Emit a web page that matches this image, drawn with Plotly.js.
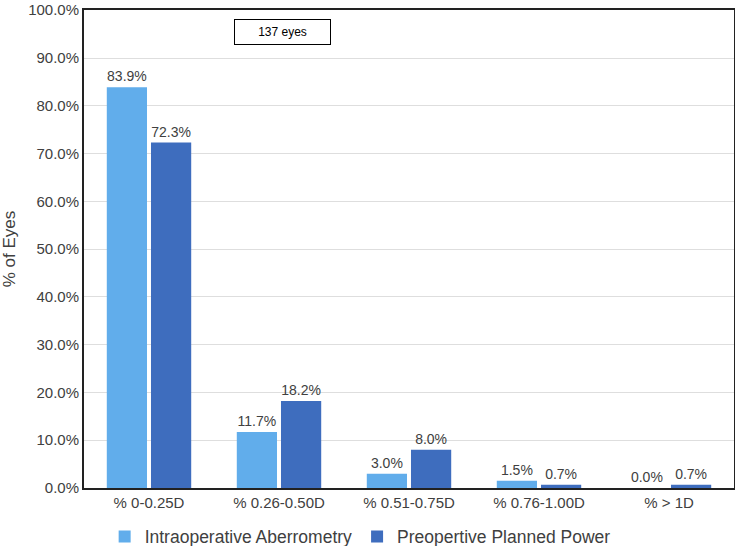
<!DOCTYPE html>
<html><head><meta charset="utf-8">
<script src="https://cdn.plot.ly/plotly-3.0.1.min.js"></script>
<style>html,body{margin:0;padding:0;background:#fff}</style>
</head><body>
<div id="chart" style="width:735px;height:546px"></div>
<script>
const categories = ["% 0-0.25D", "% 0.26-0.50D", "% 0.51-0.75D", "% 0.76-1.00D", "% > 1D"];
const intraop = [83.9, 11.7, 3.0, 1.5, 0.0];
const preop = [72.3, 18.2, 8.0, 0.7, 0.7];
const seriesNames = ["Intraoperative Aberrometry", "Preopertive Planned Power"];
const yTicks = [0,10,20,30,40,50,60,70,80,90,100];

const font = "Liberation Sans, Arial, Helvetica, sans-serif";
const mk = (y, name, color) => ({
  type: 'bar', x: categories, y: y, name: name,
  marker: {color: color},
  text: y.map(v => v.toFixed(1) + '%'), textposition: 'outside',
  textfont: {size: 14, color: '#404040', family: font},
  cliponaxis: false, hoverinfo: 'skip'
});
const data = [mk(intraop, seriesNames[0], '#61adeb'), mk(preop, seriesNames[1], '#3e6dbe')];
const layout = {
  width: 735, height: 546,
  margin: {l: 84, r: 1, t: 10, b: 58},
  barmode: 'group', bargap: 0.32, bargroupgap: 0.09,
  paper_bgcolor: '#fff', plot_bgcolor: '#fff',
  font: {family: font, color: '#404040'},
  xaxis: {showline: true, linecolor: '#222', linewidth: 2, mirror: true, ticks: '',
          tickfont: {size: 15, color: '#404040'}, automargin: false},
  yaxis: {range: [0, 100.05], tickvals: yTicks, ticktext: yTicks.map(v => v.toFixed(1) + '%'),
          ticklabeloverflow: 'allow',
          showgrid: true, gridcolor: '#dedede', gridwidth: 1, zeroline: false,
          showline: true, linecolor: '#222', linewidth: 2, mirror: true, ticks: '',
          tickfont: {size: 15, color: '#404040'}, automargin: false,
          title: {text: '% of Eyes', font: {size: 17, color: '#404040'}, standoff: 14}},
  legend: {orientation: 'h', xref: 'container', yref: 'container', x: 0.49, xanchor: 'center',
           y: 0.017, yanchor: 'middle',
           font: {size: 17.5, color: '#404040'}, itemwidth: 30, tracegroupgap: 0},
  showlegend: true,
  annotations: [{xref: 'paper', yref: 'paper', x: 0.305, y: 0.954, xanchor: 'center', yanchor: 'middle',
    text: '137 eyes',
    showarrow: false, font: {size: 12, color: '#000', family: font},
    bordercolor: '#000', borderwidth: 1, width: 93, height: 22, bgcolor: '#fff'}]
};
Plotly.newPlot('chart', data, layout, {displayModeBar: false, staticPlot: true});
</script>
</body></html>
